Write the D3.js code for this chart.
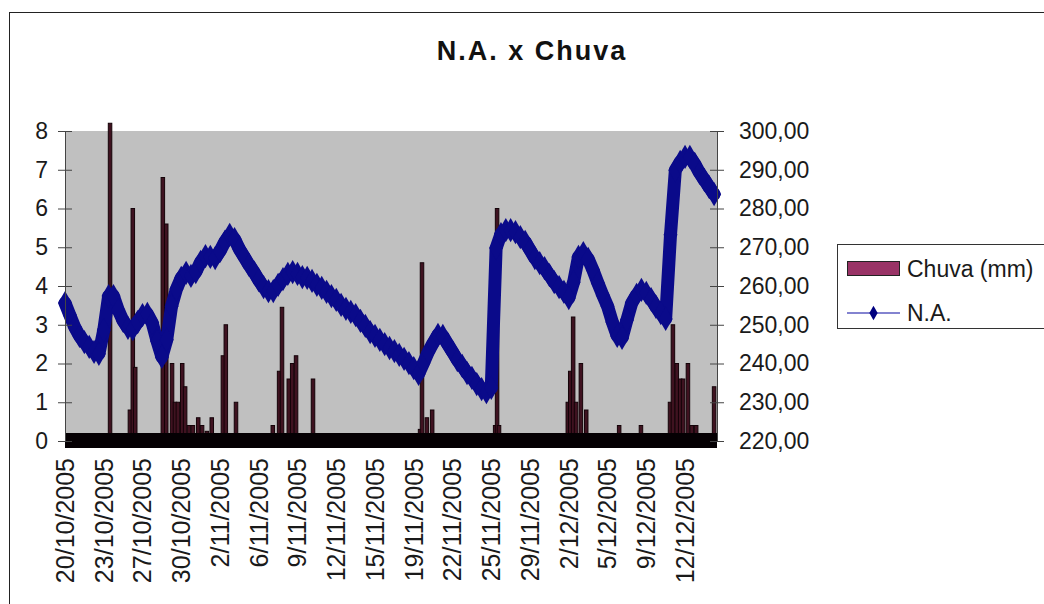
<!DOCTYPE html>
<html>
<head>
<meta charset="utf-8">
<script src="https://cdn.jsdelivr.net/npm/d3@7"></script>
<style>
  html, body { margin: 0; padding: 0; background: #ffffff; }
  svg { display: block; font-family: "Liberation Sans", Arial, sans-serif; }
</style>
</head>
<body>
<svg id="chart" width="1044" height="604"></svg>
<script>
// Category axis: hourly readings, a date label every 80 readings
const tickDates = [
  "20/10/2005", "23/10/2005", "27/10/2005", "30/10/2005", "2/11/2005",
  "6/11/2005", "9/11/2005", "12/11/2005", "15/11/2005", "19/11/2005",
  "22/11/2005", "25/11/2005", "29/11/2005", "2/12/2005", "5/12/2005",
  "9/12/2005", "12/12/2005"
];
const slotsPerLabel = 80;
const totalSlots = 1346;

// N.A. readings, one every 10 slots
const naStep = 10;
const naValues = [
  255.6, 252.5, 249.4, 247.1, 245.5, 244.3, 243.0, 242.5, 248.6, 257.4,
  257.4, 253.8, 251.0, 249.2, 248.9, 250.7, 252.5, 252.8, 250.5, 245.8,
  241.7, 246.1, 254.8, 259.2, 262.1, 263.4, 262.6, 263.6, 266.2, 267.7,
  267.5, 267.2, 269.0, 271.4, 273.2, 272.1, 269.5, 267.5, 265.4, 263.6,
  261.5, 259.7, 258.7, 258.7, 260.3, 261.8, 263.1, 263.6, 263.1, 262.3,
  262.1, 261.3, 260.3, 259.5, 258.5, 257.4, 256.4, 255.1, 254.1, 253.3,
  252.5, 251.0, 249.7, 248.1, 247.1, 246.1, 245.0, 244.0, 243.2, 242.2,
  241.2, 240.1, 238.8, 237.3, 240.1, 243.0, 245.3, 247.4, 247.1, 245.0,
  243.0, 240.9, 239.4, 237.5, 236.3, 234.7, 233.4, 232.6, 233.7, 269.8,
  273.4, 274.4, 274.4, 273.9, 272.6, 271.4, 269.3, 267.2, 265.9, 264.6,
  262.8, 261.0, 259.7, 258.5, 256.9, 261.0, 267.5, 268.5, 267.0, 264.1,
  260.8, 257.7, 254.8, 250.7, 247.1, 246.6, 251.2, 255.6, 257.7, 259.0,
  258.2, 256.6, 254.6, 253.0, 251.5, 273.2, 289.9, 292.0, 293.3, 293.3,
  291.5, 289.2, 287.4, 285.5, 283.7
];

// Rain (mm): slot index of each non-zero reading and its amount
const rainSlots = [
  93, 134, 140, 145, 202, 209, 221, 227, 233, 242,
  248, 256, 264, 275, 283, 293, 303, 326, 332, 353,
  376, 429, 442, 448, 462, 469, 477, 512, 733, 737,
  747, 758, 888, 892, 896, 1038, 1043, 1049, 1055, 1065,
  1076, 1144, 1150, 1189, 1249, 1255, 1263, 1270, 1276, 1286,
  1294, 1303, 1340
];
const rainValues = [
  8.2, 0.8, 6.0, 1.9, 6.8, 5.6, 2.0, 1.0, 1.0, 2.0,
  1.4, 0.4, 0.4, 0.6, 0.4, 0.25, 0.6, 2.2, 3.0, 1.0,
  0.15, 0.4, 1.8, 3.45, 1.6, 2.0, 2.2, 1.6, 0.3, 4.6,
  0.6, 0.8, 0.4, 6.0, 0.4, 1.0, 1.8, 3.2, 1.0, 2.0,
  0.8, 0.4, 0.15, 0.4, 1.0, 3.0, 2.0, 1.6, 1.6, 2.0,
  0.4, 0.4, 1.4
];

const leftTicks = [0, 1, 2, 3, 4, 5, 6, 7, 8];
const rightTicks = [220, 230, 240, 250, 260, 270, 280, 290, 300];

const svg = d3.select("#chart");
const plot = { left: 65, right: 717, top: 131, bottom: 441 };

const x = d3.scaleLinear().domain([0, totalSlots]).range([plot.left, plot.right]);
const yL = d3.scaleLinear().domain([0, 8]).range([plot.bottom, plot.top]);
const yR = d3.scaleLinear().domain([220, 300]).range([plot.bottom, plot.top]);

// Chart frame
svg.append("rect")
  .attr("x", 9.5).attr("y", 12.5).attr("width", 1100).attr("height", 700)
  .attr("fill", "#ffffff").attr("stroke", "#222").attr("stroke-width", 1);

// Title
svg.append("text")
  .attr("x", 532).attr("y", 60)
  .attr("text-anchor", "middle")
  .attr("font-size", 27).attr("font-weight", "bold")
  .attr("letter-spacing", 2)
  .attr("fill", "#111")
  .text("N.A. x Chuva");

// Plot area
svg.append("rect")
  .attr("x", plot.left).attr("y", plot.top)
  .attr("width", plot.right - plot.left).attr("height", plot.bottom - plot.top)
  .attr("fill", "#c0c0c0");

// Rain bars
const barW = 3.5;
svg.append("g").selectAll("rect")
  .data(rainSlots.map((s, i) => ({ slot: s, v: rainValues[i] })))
  .join("rect")
  .attr("x", d => x(d.slot) - barW / 2)
  .attr("y", d => yL(d.v))
  .attr("width", barW)
  .attr("height", d => yL(0) - yL(d.v))
  .attr("fill", "#3f1220")
  .attr("stroke", "#140308")
  .attr("stroke-width", 1);

// Dense zero-rain baseline strip along the category axis
svg.append("rect")
  .attr("x", plot.left).attr("y", yL(0) - 8)
  .attr("width", plot.right - plot.left).attr("height", 15)
  .attr("fill", "#050003");

// N.A. series
const naPts = naValues.map((v, i) => [x(i * naStep), yR(v)]);
const naColor = "#0a0a8a";
svg.append("path")
  .attr("d", d3.line()(naPts))
  .attr("fill", "none")
  .attr("stroke", naColor)
  .attr("stroke-width", 13)
  .attr("stroke-linejoin", "round")
  .attr("stroke-linecap", "round");
svg.append("g").selectAll("path")
  .data(naPts)
  .join("path")
  .attr("transform", d => `translate(${d[0]},${d[1]})`)
  .attr("d", d3.symbol(d3.symbolDiamond, 170))
  .attr("fill", naColor);

// Left axis
const axL = svg.append("g")
  .attr("transform", `translate(${plot.left},0)`)
  .call(d3.axisLeft(yL).tickValues(leftTicks).tickFormat(d3.format("d"))
    .tickSizeInner(7).tickSizeOuter(0).tickPadding(10));
axL.select(".domain").attr("stroke", "#444");
axL.selectAll(".tick line").attr("x1", 7).attr("stroke", "#444");
axL.selectAll("text").attr("font-size", 23).attr("fill", "#1a1a1a")
  .attr("font-family", "Liberation Sans, Arial, sans-serif");

// Right axis
const axR = svg.append("g")
  .attr("transform", `translate(${plot.right},0)`)
  .call(d3.axisRight(yR).tickValues(rightTicks)
    .tickFormat(d => d.toFixed(2).replace(".", ","))
    .tickSizeInner(7).tickSizeOuter(0).tickPadding(15));
axR.select(".domain").attr("stroke", "#444");
axR.selectAll(".tick line").attr("x1", -7).attr("stroke", "#444");
axR.selectAll("text").attr("font-size", 23).attr("fill", "#1a1a1a")
  .attr("font-family", "Liberation Sans, Arial, sans-serif");

// Category axis labels, rotated
svg.append("g").selectAll("text")
  .data(tickDates.map((t, i) => ({ t, slot: i * slotsPerLabel })))
  .join("text")
  .attr("transform", d => `translate(${x(d.slot)},458) rotate(-90)`)
  .attr("text-anchor", "end")
  .attr("dy", "0.35em")
  .attr("font-size", 25)
  .attr("fill", "#1a1a1a")
  .text(d => d.t);

// Legend
const lg = svg.append("g");
lg.append("rect")
  .attr("x", 837.5).attr("y", 244.5).attr("width", 220).attr("height", 84)
  .attr("fill", "#ffffff").attr("stroke", "#333").attr("stroke-width", 1);
lg.append("rect")
  .attr("x", 847.5).attr("y", 261.5).attr("width", 52).attr("height", 14)
  .attr("fill", "#993366").attr("stroke", "#222").attr("stroke-width", 1);
lg.append("text")
  .attr("x", 907).attr("y", 277)
  .attr("font-size", 23).attr("fill", "#1a1a1a")
  .text("Chuva (mm)");
lg.append("line")
  .attr("x1", 847).attr("x2", 900).attr("y1", 313).attr("y2", 313)
  .attr("stroke", "#5a5ac0").attr("stroke-width", 1.5);
lg.append("path")
  .attr("transform", "translate(873.5,313)")
  .attr("d", d3.symbol(d3.symbolDiamond, 60))
  .attr("fill", "#000080");
lg.append("text")
  .attr("x", 907).attr("y", 321)
  .attr("font-size", 23).attr("fill", "#1a1a1a")
  .text("N.A.");
</script>
</body>
</html>
